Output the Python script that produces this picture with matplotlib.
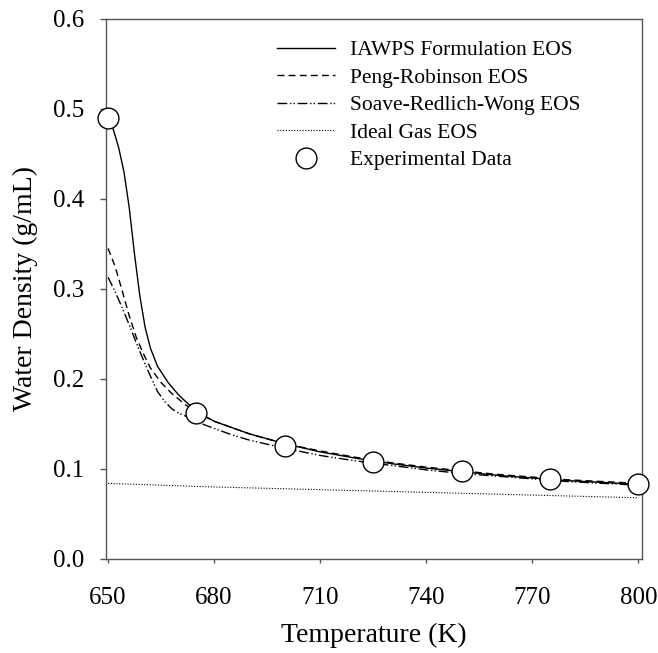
import matplotlib
matplotlib.use("Agg")
import matplotlib.pyplot as plt

plt.rcParams['font.family'] = ['Liberation Serif', 'DejaVu Serif']

# IAPWS formulation curve
iapws_T = [650, 651.5, 653, 654.5, 656, 657.5, 659, 660.5, 662, 664, 667, 670, 675,
           680, 690, 700, 710, 720, 730, 740, 750, 760, 770, 780, 790, 800]
iapws_rho = [0.49, 0.477, 0.457, 0.43, 0.39, 0.338, 0.292, 0.257, 0.234, 0.214, 0.196,
             0.182, 0.164, 0.153, 0.139, 0.128, 0.119, 0.112, 0.106, 0.101, 0.097,
             0.093, 0.090, 0.087, 0.085, 0.083]

# Peng-Robinson curve
pr_T = [650, 652, 654, 656, 658, 660, 662, 665, 668, 672, 676, 680, 690, 700,
        710, 720, 730, 740, 750, 760, 770, 780, 790, 800]
pr_rho = [0.345, 0.325, 0.298, 0.270, 0.246, 0.228, 0.212, 0.196, 0.184, 0.171,
          0.161, 0.153, 0.139, 0.128, 0.120, 0.113, 0.107, 0.102, 0.098, 0.094,
          0.091, 0.088, 0.086, 0.084]

# Soave-Redlich-Wong curve
srw_T = [650, 652, 654, 656, 658, 660, 662, 664, 666, 668, 670, 673, 676, 680,
         685, 690, 700, 710, 720, 730, 740, 750, 760, 770, 780, 790, 800]
srw_rho = [0.313, 0.297, 0.279, 0.260, 0.240, 0.221, 0.203, 0.186, 0.175, 0.167,
           0.162, 0.157, 0.151, 0.145, 0.138, 0.132, 0.123, 0.115, 0.109, 0.104,
           0.099, 0.095, 0.092, 0.089, 0.086, 0.084, 0.082]

# Ideal gas curve
ideal_T = [650, 680, 710, 740, 770, 800]
ideal_rho = [0.084, 0.080, 0.077, 0.074, 0.071, 0.068]

# Experimental data
exp_T = [650, 675, 700, 725, 750, 775, 800]
exp_rho = [0.49, 0.162, 0.126, 0.108, 0.098, 0.089, 0.083]

xticks = [650, 680, 710, 740, 770, 800]
yticks = [0.0, 0.1, 0.2, 0.3, 0.4, 0.5, 0.6]

fig = plt.figure(figsize=(6.58, 6.53), dpi=100)
ax = fig.add_axes([0.161, 0.144, 0.815, 0.827])

ax.plot(iapws_T, iapws_rho, color='black', lw=1.0, ls='-', label='IAWPS Formulation EOS')
ax.plot(pr_T, pr_rho, color='black', lw=1.0, ls=(0, (5, 3)), label='Peng-Robinson EOS')
ax.plot(srw_T, srw_rho, color='black', lw=1.0, ls=(0, (7, 2, 1, 1.5, 1, 2)),
        label='Soave-Redlich-Wong EOS')
ax.plot(ideal_T, ideal_rho, color='black', lw=0.8, ls=(0, (1, 1.5)), label='Ideal Gas EOS')
ax.plot(exp_T, exp_rho, ls='none', marker='o', ms=15, mfc='white', mec='black',
        mew=1.0, clip_on=False, zorder=5, label='Experimental Data')

ax.set_xlim(649.4, 801.1)
ax.set_ylim(0.0, 0.6)
ax.set_xticks(xticks)
ax.set_yticks(yticks)
ax.set_yticklabels([f"{v:.1f}" for v in yticks])

for s in ax.spines.values():
    s.set_color('#555555')
    s.set_linewidth(1.0)
ax.tick_params(direction='out', width=1.0, color='#555555',
               labelsize=18, top=False, right=False)
ax.tick_params(axis='x', length=3, pad=17)
ax.tick_params(axis='y', length=4.3, pad=11)

ax.set_xlabel('Temperature (K)', fontsize=20, labelpad=10)
ax.set_ylabel('Water Density (g/mL)', fontsize=20, labelpad=11)

ax.legend(loc='upper left', frameon=False, fontsize=15.5, handlelength=2.7,
          handletextpad=0.7, labelspacing=0.35, borderpad=0, borderaxespad=0,
          bbox_to_anchor=(0.319, 0.961))

fig.savefig('out.png', dpi=100)
